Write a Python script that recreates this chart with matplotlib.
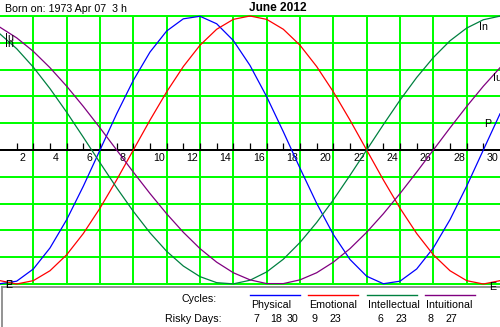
import matplotlib
matplotlib.use("Agg")
import matplotlib.pyplot as plt
import numpy as np

plt.rcParams['font.family'] = ['Liberation Sans', 'DejaVu Sans']

# --- Data ---
born_text = "Born on: 1973 Apr 07  3 h"
month_title = "June 2012"

# curve samples at each day, x = day 1 (left edge) .. day 31 (right edge)
days = np.arange(1, 32)
physical = [-0.998, -0.979, -0.888, -0.731, -0.520, -0.270, 0.0, 0.270, 0.520, 0.731,
            0.888, 0.979, 0.998, 0.942, 0.817, 0.631, 0.398, 0.136, -0.136, -0.398,
            -0.631, -0.817, -0.942, -0.998, -0.979, -0.888, -0.731, -0.520, -0.270, 0.0, 0.270]
emotional = [-0.975, -1.0, -0.975, -0.901, -0.782, -0.623, -0.434, -0.223, 0.0, 0.223,
             0.434, 0.623, 0.782, 0.901, 0.975, 1.0, 0.975, 0.901, 0.782, 0.623,
             0.434, 0.223, 0.0, -0.223, -0.434, -0.623, -0.782, -0.901, -0.975, -1.0, -0.975]
intellectual = [0.866, 0.756, 0.618, 0.458, 0.282, 0.095, -0.095, -0.282, -0.458, -0.618,
                -0.756, -0.866, -0.945, -0.990, -0.999, -0.972, -0.910, -0.815, -0.690, -0.541,
                -0.372, -0.189, 0.0, 0.189, 0.372, 0.541, 0.690, 0.815, 0.910, 0.972, 0.999]
intuitional = [0.916, 0.837, 0.736, 0.614, 0.476, 0.325, 0.165, 0.0, -0.165, -0.325,
               -0.476, -0.614, -0.736, -0.837, -0.916, -0.969, -0.997, -0.997, -0.969, -0.916,
               -0.837, -0.736, -0.614, -0.476, -0.325, -0.165, 0.0, 0.165, 0.325, 0.476, 0.614]

cycle_names = ["Physical", "Emotional", "Intellectual", "Intuitional"]
short_names = ["P", "E", "In", "Iu"]
risky_days = [[7, 18, 30], [9, 23], [6, 23], [8, 27]]
tick_days = list(range(2, 31))
label_days = list(range(2, 31, 2))

# --- Styles / layout (pixels) ---
colors = ["#0000ff", "#ff0000", "#008040", "#800080"]
series = [physical, emotional, intellectual, intuitional]
W, H = 500, 327
FS = 7.7
legend_x = [250, 308, 367, 425]
risky_right = [[259, 282, 298], [317, 341], [383, 407], [434, 457]]
right_label_x = [484, 489, 479, 493]
left_label_x = 5

fig = plt.figure(figsize=(W / 100, H / 100), dpi=100)
fig.patch.set_facecolor("white")

# chart area: value +1 at y=16px, -1 at y=284px
ax = fig.add_axes([0, (H - 284) / H, 1, 268 / H])
ax.set_xlim(1, 31)
ax.set_ylim(-1, 1)
ax.axis("off")

# green grid
for d in range(3, 30, 2):
    ax.axvline(d, color="#00ff00", lw=1.44, zorder=1)
for v in [-1, -0.8, -0.6, -0.4, -0.2, 0.2, 0.4, 0.6, 0.8, 1]:
    ax.axhline(v, color="#00ff00", lw=1.44, zorder=1, clip_on=False)

# day axis
ax.axhline(0, color="black", lw=1.44, zorder=2)
ax.vlines(tick_days, 0, 7 / 134, color="black", lw=0.9, zorder=2)
for d in label_days:
    ax.annotate(str(d), xy=(d, 0), xytext=(3, -10.7), textcoords="offset pixels",
                ha="left", va="baseline", fontsize=FS)

# curves
for vals, c in zip(series, colors):
    ax.plot(days, vals, color=c, lw=0.9, zorder=3, clip_on=False)

# overlay in pixel coordinates for the text around the chart
ov = fig.add_axes([0, 0, 1, 1], zorder=5)
ov.set_xlim(0, W)
ov.set_ylim(H, 0)
ov.axis("off")
ov.patch.set_alpha(0)

ov.text(5, 12.3, born_text, fontsize=FS, ha="left", va="baseline")
ov.text(249, 10.8, month_title, fontsize=8.6, fontweight="bold", ha="left", va="baseline")

fig.canvas.draw()


def to_px(x, v):
    return H - ax.transData.transform((x, v))[1]


# curve name labels at both ends
for name, vals, xr in zip(short_names, series, right_label_x):
    top_l = min(to_px(1, vals[0]) + 6, 280)
    top_r = min(to_px(31, vals[-1]) + 6, 282)
    ov.text(left_label_x, top_l + 7.5, name, fontsize=FS, ha="left", va="baseline")
    ov.text(xr, top_r + 7.5, name, fontsize=FS, ha="left", va="baseline")

# sunken panel border
ov.plot([2, W], [287, 287], color="#808080", lw=1.2)
ov.plot([2, 2], [287, H], color="#808080", lw=1.2)

# legend block
ov.text(217, 302, "Cycles:", fontsize=FS, ha="right", va="baseline")
ov.text(222, 322, "Risky Days:", fontsize=FS, ha="right", va="baseline")
for name, c, x0, rd, rx in zip(cycle_names, colors, legend_x, risky_days, risky_right):
    ov.plot([x0, x0 + 50], [295, 295], color=c, lw=1.0)
    ov.text(x0 + 1, 308.5, name, fontsize=FS, ha="left", va="baseline")
    for d, xx in zip(rd, rx):
        ov.text(xx, 322, str(d), fontsize=FS, ha="right", va="baseline")

fig.savefig("out.png", dpi=100)
